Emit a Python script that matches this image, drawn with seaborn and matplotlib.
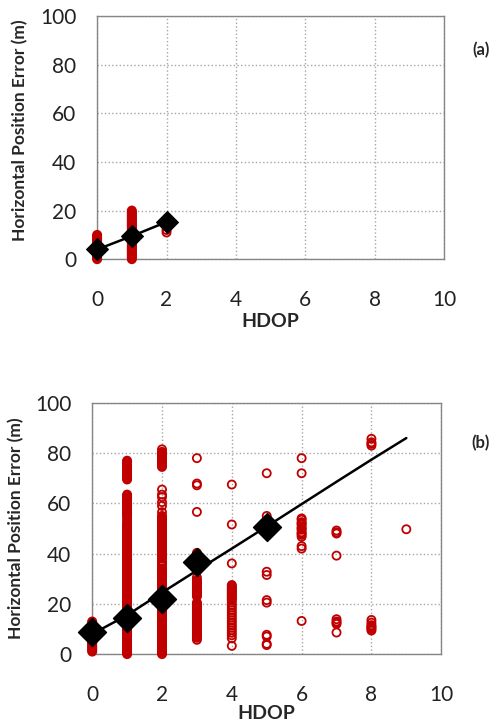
import pandas as pd
import matplotlib
matplotlib.use("Agg")
import matplotlib.pyplot as plt
import seaborn as sns
from matplotlib.ticker import MultipleLocator

# ---- panel (a): horizontal error (m) per HDOP value ----
a_hdop0 = [0, 0.5, 1, 1.5, 2, 2.5, 3, 3.5, 4, 4.5, 5, 5.5, 6, 6.5, 7, 7.5, 8, 8.5,
           9, 9.5, 10]
a_hdop1 = [0, 0.5, 1, 1.5, 2, 2.5, 3, 3.5, 4, 4.5, 5, 5.5, 6, 6.5, 7, 7.5, 8, 8.5,
           9, 9.5, 10, 10.5, 11, 11.5, 12, 12.5, 13, 13.5, 14, 14.5, 15, 15.5, 16,
           16.5, 17, 17.5, 18, 18.5, 19, 19.5, 20]
a_hdop2 = [11, 12]
a_mean_x = [0, 1, 2]
a_mean_y = [4, 9.5, 15.3]

# ---- panel (b) ----
b_hdop0 = [1, 1.5, 2, 2.5, 3, 3.5, 4, 4.5, 5, 5.5, 6, 6.5, 7, 7.5, 8, 8.5, 9, 9.5,
           10, 10.5, 11, 11.5, 12, 12.5, 13]
b_hdop1 = [0, 0.5, 1, 1.5, 2, 2.5, 3, 3.5, 4, 4.5, 5, 5.5, 6, 6.5, 7, 7.5, 8, 8.5,
           9, 9.5, 10, 10.5, 11, 11.5, 12, 12.5, 13, 13.5, 14, 14.5, 15, 15.5, 16,
           16.5, 17, 17.5, 18, 18.5, 19, 19.5, 20, 20.5, 21, 21.5, 22, 22.5, 23,
           23.5, 24, 24.5, 25, 25.5, 26, 26.5, 27, 27.5, 28, 28.5, 29, 29.5, 30,
           30.5, 31, 31.5, 32, 32.5, 33, 33.5, 34, 34.5, 35, 35.5, 36, 36.5, 37,
           37.5, 38, 38.5, 39, 39.5, 40, 40.5, 41, 41.5, 42, 42.5, 43, 43.5, 44,
           44.5, 45, 45.5, 46, 46.5, 47, 47.5, 48, 48.5, 49, 49.5, 50, 50.5, 51,
           51.5, 52, 53, 54, 55, 55.5, 56, 56.5, 57, 57.5, 58, 58.5, 59, 59.5, 60,
           60.5, 61, 61.5, 62, 62.5, 63, 63.5,
           69.5, 70, 70.5, 71, 71.5, 72, 72.5, 73, 73.5, 74, 74.5, 75, 75.5, 76,
           76.5, 77]
b_hdop2 = [0, 0.5, 1, 1.5, 2, 2.5, 3, 3.5, 4, 4.5, 5, 5.5, 6, 6.5, 7, 7.5, 8, 8.5,
           9, 9.5, 10, 10.5, 11, 11.5, 12, 12.5, 13, 13.5, 14, 14.5, 15, 15.5, 16,
           16.5, 17, 17.5, 18, 18.5, 19, 19.5, 20, 20.5, 21, 21.5, 22, 22.5, 23,
           23.5, 24, 24.5, 25, 25.5, 26, 26.5, 27, 27.5, 28, 28.5, 29, 29.5, 30,
           30.5, 31, 31.5, 32, 32.5, 33, 33.5, 34, 35, 36, 36.5, 37, 38, 38.5, 39,
           39.5, 40, 40.5, 41, 41.5, 42, 42.5, 43, 43.5, 44, 44.5, 45, 45.5, 46,
           46.5, 47, 47.5, 48, 48.5, 49, 49.5, 50, 50.5, 51, 51.5, 52, 52.5, 53,
           53.5, 54, 54.5, 55, 56.5, 59, 60.5, 62.5, 63.5, 65.5,
           74.5, 75, 75.5, 76, 76.5, 77, 77.5, 78, 78.5, 79, 79.5, 80, 80.5, 81.5]
b_hdop3 = [5.7, 6.5, 7, 7.5, 8, 8.5, 9, 9.5, 10, 10.5, 11, 11.5, 12, 12.5, 13,
           13.5, 14, 14.5, 15, 15.5, 16, 16.5, 17, 17.5, 18, 18.5, 19, 19.5, 20,
           20.5, 23, 23.5, 24, 24.5, 25, 25.5, 26, 26.5, 27, 27.5, 28, 28.5, 29,
           29.5, 30.5, 40.3, 56.6, 67.2, 67.9, 78]
b_hdop4 = [3.3, 6.3, 7.5, 8.5, 9.5, 10.5, 11.5, 12.5, 13.5, 14.5, 15.5, 16.5, 17.5,
           18.5, 19.5, 20.5, 21.5, 22, 22.5, 23, 23.5, 24, 24.5, 25, 25.5, 26,
           26.5, 27, 27.5, 36.1, 51.6, 67.5]
b_hdop5 = [3.6, 4.1, 7, 7.7, 20.5, 21.5, 31.5, 32.8, 55, 72]
b_hdop6 = [13.2, 42, 43, 46.7, 47.5, 48, 48.5, 49.5, 50, 50.5, 51.5, 52, 52.5,
           53.5, 54, 72, 78]
b_hdop7 = [8.6, 12, 12.5, 13, 13.9, 39.2, 48, 48.5, 49.2]
b_hdop8 = [9.4, 10, 10.5, 11, 11.5, 12.5, 13.6, 83, 83.7, 84.3, 85.7]
b_hdop9 = [49.7]
b_mean_x = [0, 1, 2, 3, 5]
b_mean_y = [8.9, 14.2, 21.8, 36.5, 50.5]
b_fit_x = [0, 1, 2, 3, 4, 5, 6, 7, 8, 9]
b_fit_y = [8, 15.5, 24.5, 33.3, 42, 50.8, 59.7, 68.6, 77.4, 86]


def to_frame(groups):
    rows = []
    for h, vals in groups:
        for v in vals:
            rows.append((h, v))
    return pd.DataFrame(rows, columns=["HDOP", "Error"])


df_a = to_frame([(0, a_hdop0), (1, a_hdop1), (2, a_hdop2)])
df_b = to_frame([(0, b_hdop0), (1, b_hdop1), (2, b_hdop2), (3, b_hdop3), (4, b_hdop4),
                 (5, b_hdop5), (6, b_hdop6), (7, b_hdop7), (8, b_hdop8), (9, b_hdop9)])

sns.set_style("white")
plt.rcParams["font.family"] = ["Lato", "DejaVu Sans"]

RED = "#C00000"
GRID = "#a6a6a6"
SPINE = "#868686"

fig = plt.figure(figsize=(4.93, 7.22), dpi=100)
ax_a = fig.add_axes([0.197, 0.641, 0.704, 0.337])
ax_b = fig.add_axes([0.187, 0.094, 0.708, 0.348])


def style_axis(ax, xpad):
    ax.set_xlim(0, 10)
    ax.set_ylim(0, 100)
    ax.xaxis.set_major_locator(MultipleLocator(2))
    ax.xaxis.set_minor_locator(MultipleLocator(1))
    ax.yaxis.set_major_locator(MultipleLocator(20))
    ax.yaxis.set_minor_locator(MultipleLocator(10))
    ax.tick_params(axis="both", which="both", direction="out", length=6, width=1,
                   color=SPINE, labelsize=15, labelcolor="#222222")
    ax.tick_params(axis="x", which="major", pad=16)
    ax.tick_params(axis="y", which="major", pad=9)
    ax.grid(True, which="major", linestyle=":", color=GRID, linewidth=1)
    for s in ax.spines.values():
        s.set_color(SPINE)
        s.set_linewidth(1)
    ax.set_ylabel("")
    ax.set_xlabel("HDOP", fontsize=14, fontweight="bold", labelpad=xpad)


for ax, df in [(ax_a, df_a), (ax_b, df_b)]:
    sns.scatterplot(data=df, x="HDOP", y="Error", ax=ax, marker="o", s=34,
                    facecolor="none", edgecolor=RED, linewidth=1.3, clip_on=False,
                    zorder=3)

sns.lineplot(x=a_mean_x, y=a_mean_y, ax=ax_a, color="black", linewidth=1.8,
             marker="D", markersize=11, markeredgecolor="black", zorder=4,
             clip_on=False)

sns.lineplot(x=b_fit_x, y=b_fit_y, ax=ax_b, color="black", linewidth=1.8, zorder=4)
sns.scatterplot(x=b_mean_x, y=b_mean_y, ax=ax_b, marker="D", s=200, color="black",
                edgecolor="black", zorder=5, clip_on=False)

style_axis(ax_a, 2)
style_axis(ax_b, 0)

fig.text(0.04, 0.82, "Horizontal Position Error (m)", rotation=90, ha="center",
         va="center", fontsize=12.5, fontweight="bold")
fig.text(0.032, 0.269, "Horizontal Position Error (m)", rotation=90, ha="center",
         va="center", fontsize=12.5, fontweight="bold")
fig.text(0.975, 0.931, "(a)", ha="center", va="center", fontsize=12,
         fontweight="bold")
fig.text(0.975, 0.386, "(b)", ha="center", va="center", fontsize=12,
         fontweight="bold")

fig.savefig("out.png", dpi=100)
